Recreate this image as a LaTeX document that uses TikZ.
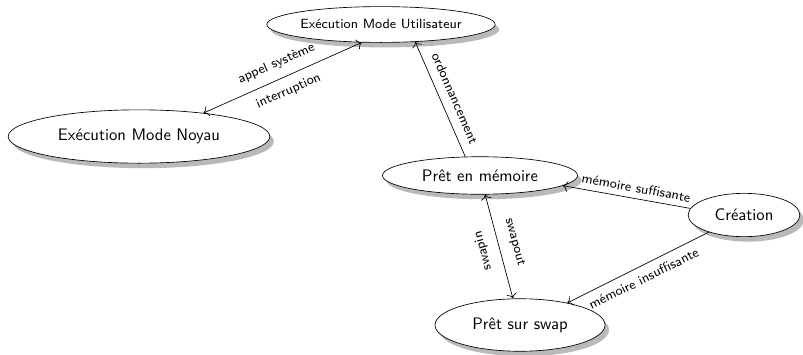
\documentclass[tikz,border=0pt]{standalone}
\usetikzlibrary{shapes.geometric,shadows,arrows.meta}
\tikzset{
  etat/.style={ellipse, draw=black, fill=white, inner sep=0pt, font=\sffamily,
    drop shadow={fill=gray!55, opacity=1, shadow xshift=2.4pt, shadow yshift=-3pt}},
  lab/.style={font=\sffamily\footnotesize, sloped},
  >={To[scale=1.2]},
}
\begin{document}
\begin{tikzpicture}[x=0.6pt, y=-0.6pt]
\useasboundingbox (0,0) rectangle (803,354);
% les etats
\node[etat, minimum width=118pt, minimum height=21.5pt, font=\sffamily\footnotesize] (util) at (381,24.5) {Exécution Mode Utilisateur};
\node[etat, minimum width=157pt, minimum height=32pt] (noyau) at (139,136.5) {Exécution Mode Noyau};
\node[etat, minimum width=117pt, minimum height=22.5pt] (mem) at (480,175.5) {Prêt en mémoire};
\node[etat, minimum width=67pt, minimum height=26pt] (crea) at (744,215) {Création};
\node[etat, minimum width=102pt, minimum height=31.5pt] (swap) at (520,325) {Prêt sur swap};
% les transitions
\draw[<->] (noyau.20) -- node[lab, above=2pt] {appel système} node[lab, below=2pt] {interruption} (util.-137);
\draw[->] (mem.128) -- node[lab, above=2pt, pos=0.46] {ordonnancement} (util.-27);
\draw[->] (crea.173) -- node[lab, above, pos=0.44] {mémoire suffisante} (mem.-7);
\draw[->] (crea.206) -- node[lab, below=1pt] {mémoire insuffisante} (swap.25);
\draw[<->] (mem) -- node[lab, above=3pt] {swapout} (swap);
\path (swap) -- node[lab, allow upside down, above=3pt] {swapin} (mem);
\end{tikzpicture}
\end{document}
